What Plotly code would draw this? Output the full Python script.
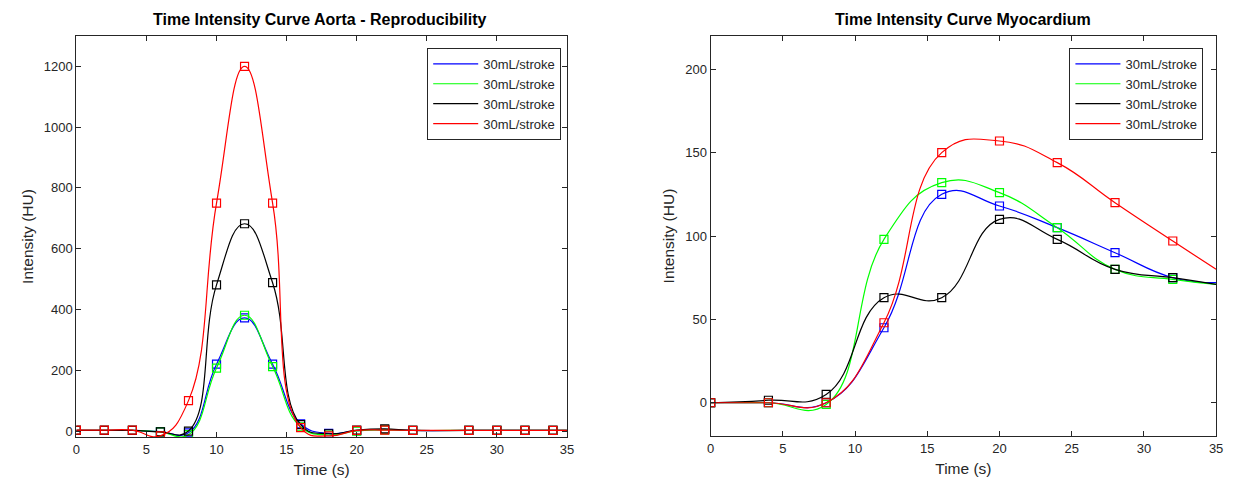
import plotly.graph_objects as go

# ---------------- data ----------------
legend_names = ["30mL/stroke", "30mL/stroke", "30mL/stroke", "30mL/stroke"]
colors = ["#0000FF", "#00FF00", "#000000", "#FF0000"]

aorta_time = [0, 2, 4, 6, 8, 10, 12, 14, 16, 18, 20, 22, 24, 28, 30, 32, 34]
aorta_blue = [2, 2, 2, -2, -6, 220, 372, 220, 24, -8, 1, 5, 2, 2, 2, 2, 2]
aorta_green = [2, 2, 2, -3, -12, 207, 381, 212, 14, -13, 0, 4, 2, 2, 2, 2, 2]
aorta_black = [2, 2, 2, -3, 0, 481, 682, 488, 21, -9, 3, 7, 2, 2, 2, 2, 2]
aorta_red = [3, 3, 3, -16, 100, 750, 1200, 750, 11, -16, 2, 3, 2, 2, 2, 2, 2]
aorta_end_time = 35
aorta_end = [2, 2, 2, 2]

myo_time = [0, 4, 8, 12, 16, 20, 24, 28, 32]
myo_blue = [0, 0, 0, 45, 125, 118, 105, 90, 75]
myo_green = [0, 0, -1, 98, 132, 126, 105, 80, 74]
myo_black = [0, 1.5, 5, 63, 63, 110, 98, 80, 75]
myo_red = [0, 0, 0, 48, 150, 157, 144, 120, 97]
myo_end_time = 35
myo_end = [72, 71, 71, 80]

aorta_series = [aorta_blue, aorta_green, aorta_black, aorta_red]
myo_series = [myo_blue, myo_green, myo_black, myo_red]

# ---------------- figure ----------------
W, H = 1235, 491
fig = go.Figure()

FONT = "Liberation Sans, Arial, Helvetica, sans-serif"
TXT = "#262626"


def add_series(times, series, end_t, end_vals, xa, ya, legend):
    for i, vals in enumerate(series):
        fig.add_trace(go.Scatter(
            x=list(times) + [end_t], y=list(vals) + [end_vals[i]],
            mode="lines", line=dict(color=colors[i], width=1.2, shape="spline", smoothing=1.3),
            name=legend_names[i], xaxis=xa, yaxis=ya, legend=legend, showlegend=True,
            hoverinfo="skip"))
        fig.add_trace(go.Scatter(
            x=times, y=vals, mode="markers",
            marker=dict(symbol="square-open", size=8, color=colors[i], line=dict(width=1.2)),
            xaxis=xa, yaxis=ya, showlegend=False, hoverinfo="skip"))


add_series(aorta_time, aorta_series, aorta_end_time, aorta_end, "x", "y", "legend")
add_series(myo_time, myo_series, myo_end_time, myo_end, "x2", "y2", "legend2")


def px_x(p):
    return p / W


def px_y(p):
    return 1 - p / H


axis_common = dict(
    showline=True, linecolor=TXT, linewidth=1, mirror="ticks",
    ticks="inside", ticklen=5, tickcolor=TXT, tickwidth=1,
    showgrid=False, zeroline=False,
    tickfont=dict(family=FONT, size=13, color=TXT),
    title_font=dict(family=FONT, size=15.5, color=TXT),
)

legend_common = dict(
    xanchor="left", yanchor="top",
    bordercolor=TXT, borderwidth=1, bgcolor="white",
    font=dict(family=FONT, size=13, color=TXT), tracegroupgap=0, itemwidth=45,
)

fig.update_layout(
    width=W, height=H,
    margin=dict(l=0, r=0, t=0, b=0),
    paper_bgcolor="white", plot_bgcolor="white",
    font=dict(family=FONT, color=TXT),
    xaxis=dict(domain=[px_x(73), px_x(568)], range=[0, 35], tickvals=[0, 5, 10, 15, 20, 25, 30, 35],
               anchor="y", title=dict(text="Time (s)", standoff=8), **axis_common),
    yaxis=dict(domain=[px_y(438), px_y(36)], range=[-20, 1300], tickvals=[0, 200, 400, 600, 800, 1000, 1200],
               anchor="x", title=dict(text="Intensity (HU)", standoff=6), **axis_common),
    xaxis2=dict(domain=[px_x(713), px_x(1223)], range=[0, 35], tickvals=[0, 5, 10, 15, 20, 25, 30, 35],
                anchor="y2", title=dict(text="Time (s)", standoff=8), **axis_common),
    yaxis2=dict(domain=[px_y(437), px_y(36)], range=[-20, 220], tickvals=[0, 50, 100, 150, 200],
                anchor="x2", title=dict(text="Intensity (HU)", standoff=6), **axis_common),
    legend=dict(x=px_x(427), y=px_y(48), **legend_common),
    legend2=dict(x=px_x(1075), y=px_y(48), **legend_common),
    annotations=[
        dict(text="<b>Time Intensity Curve Aorta - Reproducibility</b>", x=px_x(318), y=px_y(20),
             xref="paper", yref="paper", showarrow=False, xanchor="center", yanchor="middle",
             font=dict(family=FONT, size=16, color="black")),
        dict(text="<b>Time Intensity Curve Myocardium</b>", x=px_x(968), y=px_y(20),
             xref="paper", yref="paper", showarrow=False, xanchor="center", yanchor="middle",
             font=dict(family=FONT, size=16, color="black")),
    ],
)

fig.write_html("out.html")
